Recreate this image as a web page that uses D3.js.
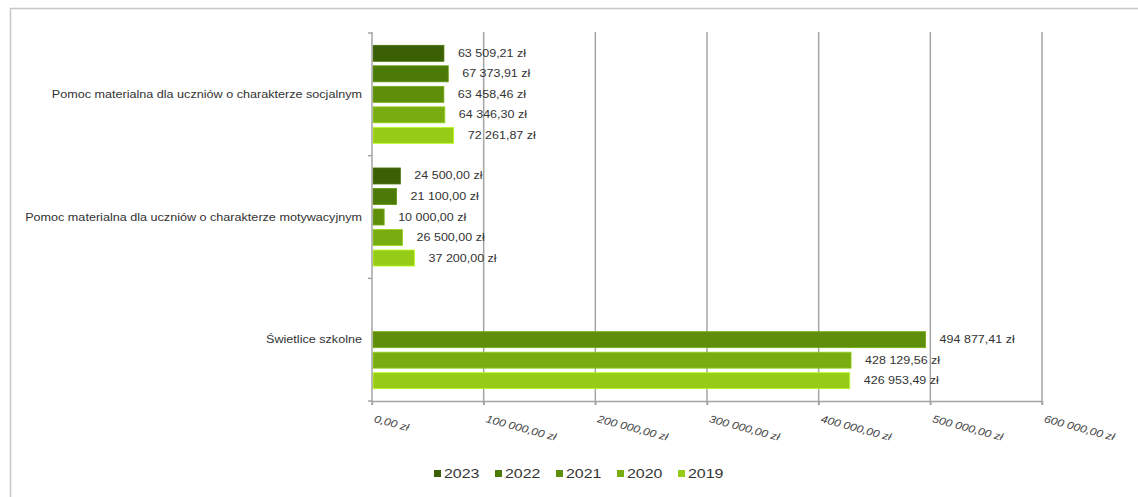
<!DOCTYPE html>
<html>
<head>
<meta charset="utf-8">
<script src="https://cdn.jsdelivr.net/npm/d3@7"></script>
<style>
  body { margin: 0; background: #fff; }
  svg { display: block; font-family: "Liberation Sans", Arial, sans-serif; }
</style>
</head>
<body>
<svg id="chart" width="1138" height="497"></svg>
<script>
// --- data ---
const categories = [
  "Pomoc materialna dla uczniów o charakterze socjalnym",
  "Pomoc materialna dla uczniów o charakterze motywacyjnym",
  "Świetlice szkolne"
];
const years = ["2023", "2022", "2021", "2020", "2019"];
// values per year, in category order (null = no bar)
const values2023 = [63509.21, 24500.00, null];
const values2022 = [67373.91, 21100.00, null];
const values2021 = [63458.46, 10000.00, 494877.41];
const values2020 = [64346.30, 26500.00, 428129.56];
const values2019 = [72261.87, 37200.00, 426953.49];
const xTicks = [0, 100000, 200000, 300000, 400000, 500000, 600000];

const seriesValues = [values2023, values2022, values2021, values2020, values2019];
const colors = ["#3b5f04", "#4b7a07", "#5f8e0b", "#79ac11", "#96cc18"];

// --- layout ---
const svg = d3.select("#chart");
const plotLeft = 372, plotRight = 1042, plotTop = 32, plotBottom = 401;

const pl = d3.formatLocale({
  decimal: ",",
  thousands: "\u00a0",
  grouping: [3],
  currency: ["", " zł"]
});
const fmt = v => pl.format(",.2f")(v) + " zł";

// the original text is rendered a bit wider than the font's natural width
function stretch(sel, k) {
  sel.each(function() {
    const w = this.getComputedTextLength();
    d3.select(this).attr("textLength", w * k).attr("lengthAdjust", "spacingAndGlyphs");
  });
}

const x = d3.scaleLinear().domain([0, 600000]).range([plotLeft, plotRight]);
const y = d3.scaleBand().domain(categories).range([plotTop + 1, plotBottom]);
const yInner = d3.scaleBand().domain(years).range([0, y.bandwidth()])
  .paddingInner(0.22).paddingOuter(0.6);

// outer frame
svg.append("path")
  .attr("d", "M10.5,497V8.5H1138")
  .attr("fill", "none")
  .attr("stroke", "#c6c6c6")
  .attr("stroke-width", 1.5);

// gridlines
svg.append("g").selectAll("line")
  .data(xTicks.slice(1))
  .join("line")
  .attr("x1", d => x(d)).attr("x2", d => x(d))
  .attr("y1", plotTop).attr("y2", plotBottom + 4)
  .attr("stroke", "#a4a4a4")
  .attr("stroke-width", 1.5);

// bars + value labels, one group per year
years.forEach((yr, i) => {
  const rows = categories.map((c, j) => ({ cat: c, v: seriesValues[i][j] }))
    .filter(d => d.v !== null);
  const g = svg.append("g");
  g.selectAll("rect")
    .data(rows)
    .join("rect")
    .attr("x", x(0) + 1)
    .attr("y", d => y(d.cat) + yInner(yr))
    .attr("width", d => x(d.v) - x(0))
    .attr("height", yInner.bandwidth())
    .attr("fill", colors[i])
    .attr("stroke", d3.color(colors[i]).brighter(0.6))
    .attr("stroke-width", 0.8);
  g.selectAll("text")
    .data(rows)
    .join("text")
    .attr("x", d => x(d.v) + 15)
    .attr("y", d => y(d.cat) + yInner(yr) + yInner.bandwidth() / 2)
    .attr("dy", "0.35em")
    .attr("font-size", 10)
    .attr("fill", "#333")
    .text(d => fmt(d.v))
    .call(stretch, 1.25);
});

// x axis
const xAxis = svg.append("g")
  .attr("transform", `translate(0,${plotBottom})`)
  .call(d3.axisBottom(x).tickValues(xTicks).tickSize(4).tickFormat(fmt));
xAxis.select(".domain").attr("stroke", "#a4a4a4").attr("stroke-width", 1.5)
  .attr("d", `M${plotLeft},0.5H${plotRight}`);
xAxis.selectAll(".tick line").attr("stroke", "#a4a4a4").attr("stroke-width", 1.5);
xAxis.selectAll(".tick text")
  .attr("text-anchor", "start")
  .attr("font-size", 10.5)
  .attr("font-style", "italic")
  .attr("fill", "#444")
  .attr("dy", null)
  .attr("y", 0)
  .attr("transform", "translate(1,21) rotate(15)")
  .call(stretch, 1.15);

// y axis
const yAxis = svg.append("g")
  .attr("transform", `translate(${plotLeft},0)`);
yAxis.append("line")
  .attr("x1", 0).attr("x2", 0).attr("y1", plotTop).attr("y2", plotBottom + 4)
  .attr("stroke", "#a4a4a4").attr("stroke-width", 1.5);
yAxis.selectAll("line.tk")
  .data(categories.map(c => y(c)).concat([plotBottom]))
  .join("line")
  .attr("class", "tk")
  .attr("x1", -4).attr("x2", 0)
  .attr("y1", d => d).attr("y2", d => d)
  .attr("stroke", "#a4a4a4").attr("stroke-width", 1.5);
yAxis.selectAll("text")
  .data(categories)
  .join("text")
  .attr("x", -10)
  .attr("y", d => y(d) + y.bandwidth() / 2)
  .attr("dy", "0.35em")
  .attr("text-anchor", "end")
  .attr("font-size", 10)
  .attr("fill", "#333")
  .text(d => d)
  .call(stretch, 1.26);

// legend
const legend = svg.append("g").attr("transform", "translate(434,473)");
const li = legend.selectAll("g")
  .data(years)
  .join("g")
  .attr("transform", (d, i) => `translate(${i * 61},0)`);
li.append("rect")
  .attr("x", 0).attr("y", -3).attr("width", 7).attr("height", 7)
  .attr("fill", (d, i) => colors[i]);
li.append("text")
  .attr("x", 10).attr("y", 0).attr("dy", "0.36em")
  .attr("font-size", 13.5)
  .attr("fill", "#333")
  .text(d => d)
  .call(stretch, 1.18);
</script>
</body>
</html>
